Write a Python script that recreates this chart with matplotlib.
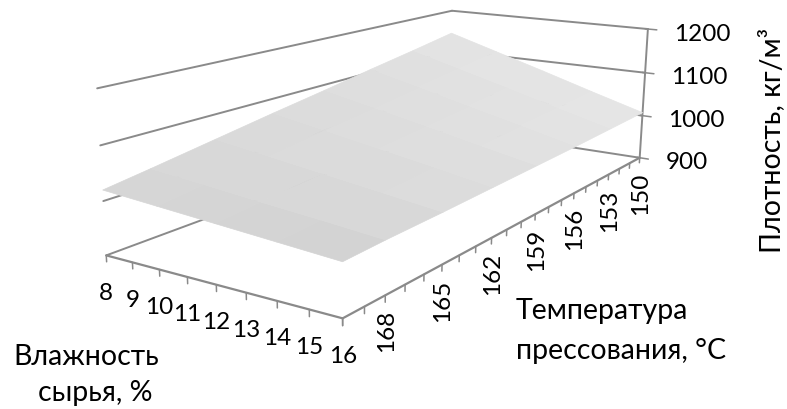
import numpy as np
import matplotlib
matplotlib.use('Agg')
import matplotlib.pyplot as plt
from mpl_toolkits.mplot3d import proj3d

humidity = [8, 10, 12, 14, 16]
temperature = [150, 153, 156, 159, 162, 165, 168, 170]
# rows follow temperature, columns follow humidity
density = [
    [1144, 1110, 1076, 1041, 1007],
    [1125, 1095, 1065, 1034, 1004],
    [1107, 1081, 1054, 1028, 1001],
    [1088, 1066, 1044, 1021, 999],
    [1070, 1052, 1034, 1016, 997],
    [1051, 1037, 1023, 1009, 995],
    [1032, 1023, 1013, 1004, 994],
    [1020, 1013, 1006, 999, 992],
]
facet_grey = [
    [227, 228, 228, 229],
    [224, 225, 226, 227],
    [222, 223, 224, 225],
    [220, 221, 222, 222],
    [218, 219, 219, 220],
    [216, 216, 216, 216],
    [214, 213, 212, 211],
]

hum_ticks = [8, 9, 10, 11, 12, 13, 14, 15, 16]
temp_ticks = list(range(150, 171))
temp_labels = [150, 153, 156, 159, 162, 165, 168]
dens_ticks = [900, 1000, 1100, 1200]

W, H = 787, 409
LINE = '#8a8a8a'
FONT = ['Lato', 'Open Sans', 'DejaVu Sans']

# where the corners of the box sit in the picture, used to fit the camera
box_corners = [(8, 170, 900), (16, 170, 900), (16, 150, 900), (8, 150, 900),
               (8, 150, 1200), (16, 150, 1200), (8, 170, 1200)]
box_pixels = [(107, 256), (342, 318), (640, 158), (449, 128),
              (452, 11), (648, 29), (97, 88)]


def fit_camera():
    norm = np.array([[1 / 8, 0, 0, -1], [0, 1 / 20, 0, -7.5],
                     [0, 0, 1 / 300, -3], [0, 0, 0, 1]])
    rows = []
    for corner, (u, v) in zip(box_corners, box_pixels):
        p = norm @ np.array([*corner, 1.0])
        u, v = u / W, v / H
        rows.append([*p, 0, 0, 0, 0, *(-u * p)])
        rows.append([0, 0, 0, 0, *p, *(-v * p)])
    cam = np.linalg.svd(np.array(rows))[2][-1].reshape(3, 4)
    to_px = np.diag([W, H, 1.0])
    return to_px @ cam @ norm


plt.rcParams['font.family'] = FONT
fig = plt.figure(figsize=(W / 100, H / 100), dpi=100)
# 3d axes are always square, so make it as wide as the figure
ax = fig.add_axes([0, -(W / H - 1) / 2, 1, W / H], projection='3d')
ax.apply_aspect()
ax.set_axis_off()
ax.computed_zorder = False
ax.set_proj_type('ortho')  # perspective mode drops lines by depth

flip = np.array([[1, 0, 0], [0, -1, H], [0, 0, 1.0]])
cam = ax.transData.inverted().get_matrix() @ flip @ fit_camera()
depth = np.linalg.svd(cam)[2][-1]
M = np.array([cam[0], cam[1], depth, cam[2]])
ax.get_proj = lambda: M


def line(hs, ts, zs, lw=1.4, z=1):
    ax.plot(hs, ts, zs, color=LINE, lw=lw, zorder=z, solid_capstyle='round')


def label(h, t, z, text, dx, dy, **kw):
    vx, vy = proj3d.proj_transform(h, t, z, M)[:2]
    ax.annotate(text, (vx, vy), xytext=(dx, dy), textcoords='offset pixels',
                fontsize=17.5, color='black', **kw)


for d in dens_ticks:
    line([8, 8], [170, 150], [d, d])
    line([8, 16], [150, 150], [d, d])
    line([15.9, 16.33], [150, 150], [d, d], lw=1.1)
    label(16, 150, d, str(d), 26, -5, ha='left', va='center')
line([16, 16], [150, 150], [900, 1200])
line([8, 16], [170, 170], [900, 900], lw=1.6)
line([16, 16], [170, 150], [900, 900], lw=1.6)

for h in hum_ticks:
    line([h, h], [170, 170], [900, 888], lw=1.1)
    label(h, 170, 900, str(h), 0, -38, ha='center', va='center')
for t in temp_ticks:
    line([16, 16], [t, t], [900, 888], lw=1.1)
for t in temp_labels:
    label(16, t, 900, str(t), 1, -36, ha='center', va='center', rotation=90)

X, Y = np.meshgrid(humidity, temperature)
colors = np.repeat(np.array(facet_grey)[:, :, None], 3, axis=2) / 255
ax.plot_surface(X, Y, np.array(density), facecolors=colors, shade=False,
                rstride=1, cstride=1, linewidth=0.5, antialiased=True, zorder=2)

fig.text(86 / W, 1 - 357 / H, 'Влажность', fontsize=20.5, ha='center', va='center')
fig.text(95 / W, 1 - 393 / H, 'сырья, %', fontsize=20.5, ha='center', va='center')
fig.text(516 / W, 1 - 311 / H, 'Температура', fontsize=20.5, ha='left', va='center')
fig.text(516 / W, 1 - 351 / H, 'прессования, °C', fontsize=20.5, ha='left', va='center')
fig.text(772 / W, 1 - 140 / H, 'Плотность, кг/м³', fontsize=20.5, rotation=90,
         ha='center', va='center')

fig.savefig('out.png', dpi=100)
